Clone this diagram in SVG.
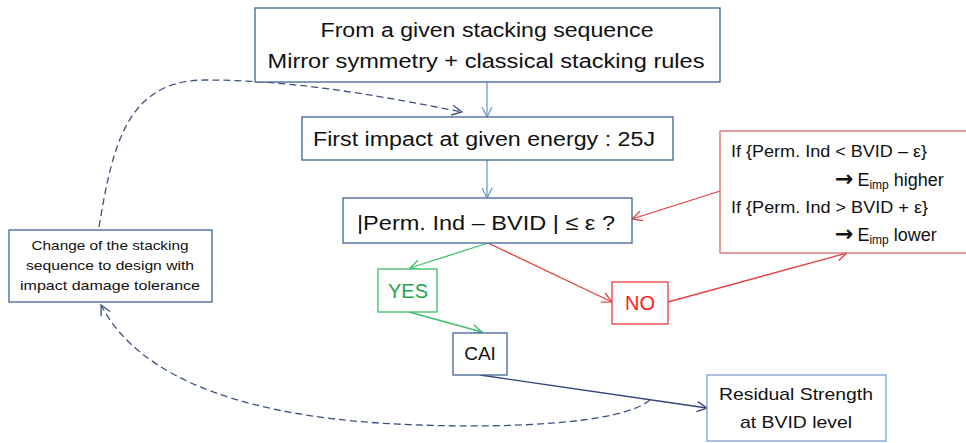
<svg xmlns="http://www.w3.org/2000/svg" width="966" height="443" viewBox="0 0 966 443">
<defs>
<style>
text{font-family:"Liberation Sans","DejaVu Sans",sans-serif;fill:#111;}
.box{fill:#fff;stroke:#3f6396;stroke-width:1.3;}
.c{text-anchor:middle;}
.conn{fill:none;stroke-width:1.3;}
.arw{font-family:"DejaVu Sans",sans-serif;font-weight:bold;font-size:22px;}
</style>
<marker id="aLB" viewBox="0 0 12 12" refX="11" refY="6" markerWidth="12" markerHeight="12" markerUnits="userSpaceOnUse" orient="auto"><path d="M1,1 L11,6 L1,11" fill="none" stroke="#7096cc" stroke-width="1.3"/></marker>
<marker id="aR" viewBox="0 0 12 12" refX="11" refY="6" markerWidth="12" markerHeight="12" markerUnits="userSpaceOnUse" orient="auto"><path d="M1,1 L11,6 L1,11" fill="none" stroke="#e5403e" stroke-width="1.3"/></marker>
<marker id="aG" viewBox="0 0 12 12" refX="11" refY="6" markerWidth="12" markerHeight="12" markerUnits="userSpaceOnUse" orient="auto"><path d="M1,1 L11,6 L1,11" fill="none" stroke="#3cbf6a" stroke-width="1.3"/></marker>
<marker id="aN" viewBox="0 0 12 12" refX="11" refY="6" markerWidth="12" markerHeight="12" markerUnits="userSpaceOnUse" orient="auto"><path d="M1,1 L11,6 L1,11" fill="none" stroke="#2e4277" stroke-width="1.3"/></marker>
<marker id="aD" viewBox="0 0 12 12" refX="11" refY="6" markerWidth="12" markerHeight="12" markerUnits="userSpaceOnUse" orient="auto"><path d="M1,1 L11,6 L1,11" fill="none" stroke="#3c5382" stroke-width="1.3"/></marker>
</defs>
<rect width="966" height="443" fill="#fff"/>

<g id="connectors">
<line class="conn" x1="487" y1="82" x2="487" y2="117" stroke="#7096cc" marker-end="url(#aLB)"/>
<line class="conn" x1="487" y1="160" x2="487" y2="198" stroke="#7096cc" marker-end="url(#aLB)"/>
<line class="conn" x1="488" y1="243" x2="410" y2="268" stroke="#3cbf6a" marker-end="url(#aG)"/>
<line class="conn" x1="488" y1="243" x2="612" y2="302" stroke="#e5403e" marker-end="url(#aR)"/>
<line class="conn" x1="409" y1="312" x2="482" y2="332" stroke="#3cbf6a" marker-end="url(#aG)"/>
<line class="conn" x1="480" y1="375" x2="707" y2="408" stroke="#2e4277" marker-end="url(#aN)"/>
<line class="conn" x1="720" y1="191" x2="632" y2="219" stroke="#e5403e" marker-end="url(#aR)"/>
<line class="conn" x1="668" y1="302" x2="847" y2="253" stroke="#e5403e" marker-end="url(#aR)"/>
<path class="conn" d="M99,227 C112,150 125,80 205,80 C300,80 390,98 462,112" stroke="#3c5382" stroke-dasharray="7,4" marker-end="url(#aD)"/>
<path class="conn" d="M650,400 C620,425 500,428 420,425 C250,420 140,380 101,305" stroke="#3c5382" stroke-dasharray="7,4" marker-end="url(#aD)"/>
</g>

<g id="start">
<rect class="box" x="255" y="8" width="465" height="74"/>
<text class="c" x="487" y="37" font-size="20" textLength="333" lengthAdjust="spacingAndGlyphs">From a given stacking sequence</text>
<text class="c" x="486" y="68" font-size="20" textLength="437" lengthAdjust="spacingAndGlyphs">Mirror symmetry + classical stacking rules</text>
</g>

<g id="first-impact">
<rect class="box" x="302" y="117" width="371" height="43"/>
<text class="c" x="484" y="146" font-size="20" textLength="342" lengthAdjust="spacingAndGlyphs">First impact at given energy : 25J</text>
</g>

<g id="decision">
<rect class="box" x="343" y="198" width="289" height="45"/>
<text class="c" x="486" y="230" font-size="21" textLength="258" lengthAdjust="spacingAndGlyphs">|Perm. Ind – BVID | ≤ ε ?</text>
</g>

<g id="rule">
<rect x="720" y="131" width="260" height="122" fill="#fff" stroke="#d46a6a" stroke-width="1.3"/>
<text x="731" y="157" font-size="16" textLength="196" lengthAdjust="spacingAndGlyphs">If {Perm. Ind &lt; BVID – ε}</text>
<text x="835" y="186" font-size="18"><tspan class="arw">→</tspan><tspan dx="4">E</tspan><tspan font-size="12" dy="3">imp</tspan><tspan dy="-3"> higher</tspan></text>
<text x="731" y="213" font-size="16" textLength="197" lengthAdjust="spacingAndGlyphs">If {Perm. Ind &gt; BVID + ε}</text>
<text x="835" y="241" font-size="18"><tspan class="arw">→</tspan><tspan dx="4">E</tspan><tspan font-size="12" dy="3">imp</tspan><tspan dy="-3"> lower</tspan></text>
</g>

<g id="yes">
<rect x="378" y="269" width="59" height="43" fill="#fff" stroke="#3cbf6a" stroke-width="1.3"/>
<text class="c" x="408" y="298" font-size="20" style="fill:#1aa84b">YES</text>
</g>

<g id="no">
<rect x="612" y="282" width="56" height="42" fill="#fff" stroke="#f03a3a" stroke-width="1.3"/>
<text class="c" x="640" y="310" font-size="20" style="fill:#ff1a1a">NO</text>
</g>

<g id="cai">
<rect class="box" x="453" y="333" width="54" height="42"/>
<text class="c" x="480" y="360" font-size="19">CAI</text>
</g>

<g id="residual">
<rect x="707" y="375" width="179" height="66" fill="#fff" stroke="#7f9fcf" stroke-width="1.3"/>
<text class="c" x="796" y="400" font-size="17" textLength="154" lengthAdjust="spacingAndGlyphs">Residual Strength</text>
<text class="c" x="796" y="428" font-size="17" textLength="112" lengthAdjust="spacingAndGlyphs">at BVID level</text>
</g>

<g id="change">
<rect class="box" x="9" y="230" width="203" height="72"/>
<text class="c" x="110" y="250" font-size="13.5" textLength="157" lengthAdjust="spacingAndGlyphs">Change of the stacking</text>
<text class="c" x="110" y="270" font-size="13.5" textLength="168" lengthAdjust="spacingAndGlyphs">sequence to design with</text>
<text class="c" x="110" y="290" font-size="13.5" textLength="180" lengthAdjust="spacingAndGlyphs">impact damage tolerance</text>
</g>
</svg>
